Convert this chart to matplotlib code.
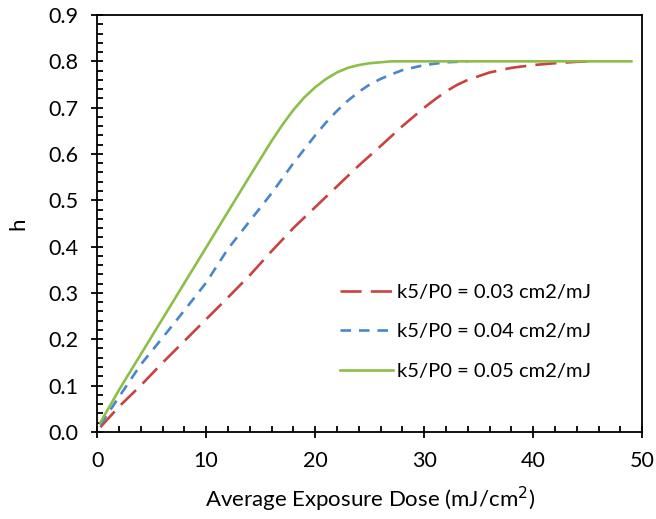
import matplotlib
matplotlib.use('Agg')
import matplotlib.pyplot as plt
from matplotlib.ticker import MultipleLocator, FormatStrFormatter

plt.rcParams['font.family'] = ['Lato', 'DejaVu Sans']

# dose (mJ/cm2) and h for each k5/P0
dose_03 = [0.3, 2, 4, 6, 8, 10, 12, 14, 16, 18, 20, 22, 24, 26, 28, 30, 31, 32, 33, 34, 36, 38,
           40, 42, 44, 45.5]
h_03 = [0.01, 0.054, 0.10, 0.149, 0.196, 0.243, 0.29, 0.338, 0.39, 0.44, 0.485, 0.53, 0.575,
        0.617, 0.66, 0.70, 0.718, 0.735, 0.749, 0.76, 0.776, 0.786, 0.792, 0.796, 0.799, 0.8]

dose_04 = [0.3, 2, 4, 6, 8, 10, 12, 14, 16, 18, 20, 21, 22, 23, 24, 25, 26, 27, 28, 30, 32, 34]
h_04 = [0.015, 0.075, 0.145, 0.203, 0.262, 0.322, 0.395, 0.455, 0.515, 0.58, 0.64, 0.668,
        0.693, 0.715, 0.734, 0.75, 0.762, 0.772, 0.781, 0.792, 0.798, 0.8]

dose_05 = [0.3, 2, 4, 6, 8, 10, 12, 14, 16, 17, 18, 19, 20, 21, 22, 23, 24, 25, 26, 27, 28,
           30, 35, 40, 45, 49]
h_05 = [0.02, 0.09, 0.167, 0.244, 0.321, 0.398, 0.475, 0.552, 0.628, 0.663, 0.695, 0.722,
        0.744, 0.762, 0.776, 0.786, 0.792, 0.796, 0.798, 0.8, 0.8, 0.8, 0.8, 0.8, 0.8, 0.8]

labels = ['k5/P0 = 0.03 cm2/mJ', 'k5/P0 = 0.04 cm2/mJ', 'k5/P0 = 0.05 cm2/mJ']

fig = plt.figure(figsize=(6.56, 5.19), dpi=100)
ax = fig.add_axes([0.148, 0.168, 0.831, 0.803])

ax.plot(dose_03, h_03, color='#C9423F', lw=1.9, dashes=(8, 3.5), label=labels[0])
ax.plot(dose_04, h_04, color='#4A86CB', lw=1.9, dashes=(4, 3), label=labels[1])
ax.plot(dose_05, h_05, color='#8DBE48', lw=1.9, label=labels[2])

ax.set_xlim(0, 50)
ax.set_ylim(0, 0.9)
ax.xaxis.set_major_locator(MultipleLocator(10))
ax.xaxis.set_minor_locator(MultipleLocator(2))
ax.yaxis.set_major_locator(MultipleLocator(0.1))
ax.yaxis.set_minor_locator(MultipleLocator(0.02))
ax.yaxis.set_major_formatter(FormatStrFormatter('%.1f'))

ax.tick_params(which='major', direction='inout', length=9, width=1.3, labelsize=15.5)
ax.tick_params(axis='x', which='major', pad=9)
ax.tick_params(axis='y', which='major', pad=9)
ax.tick_params(which='minor', direction='in', length=4.5, width=1.3)
for s in ax.spines.values():
    s.set_linewidth(1.3)

ax.set_xlabel('Average Exposure Dose (mJ/cm$^2$)', fontsize=16, labelpad=10)
ax.set_ylabel('h', fontsize=16, labelpad=14)

ax.legend(loc='center left', bbox_to_anchor=(0.446, 0.24), frameon=False, fontsize=14.5,
          handlelength=2.6, handletextpad=0.2, labelspacing=1.1, borderpad=0, borderaxespad=0)

fig.savefig('out.png', dpi=100)
